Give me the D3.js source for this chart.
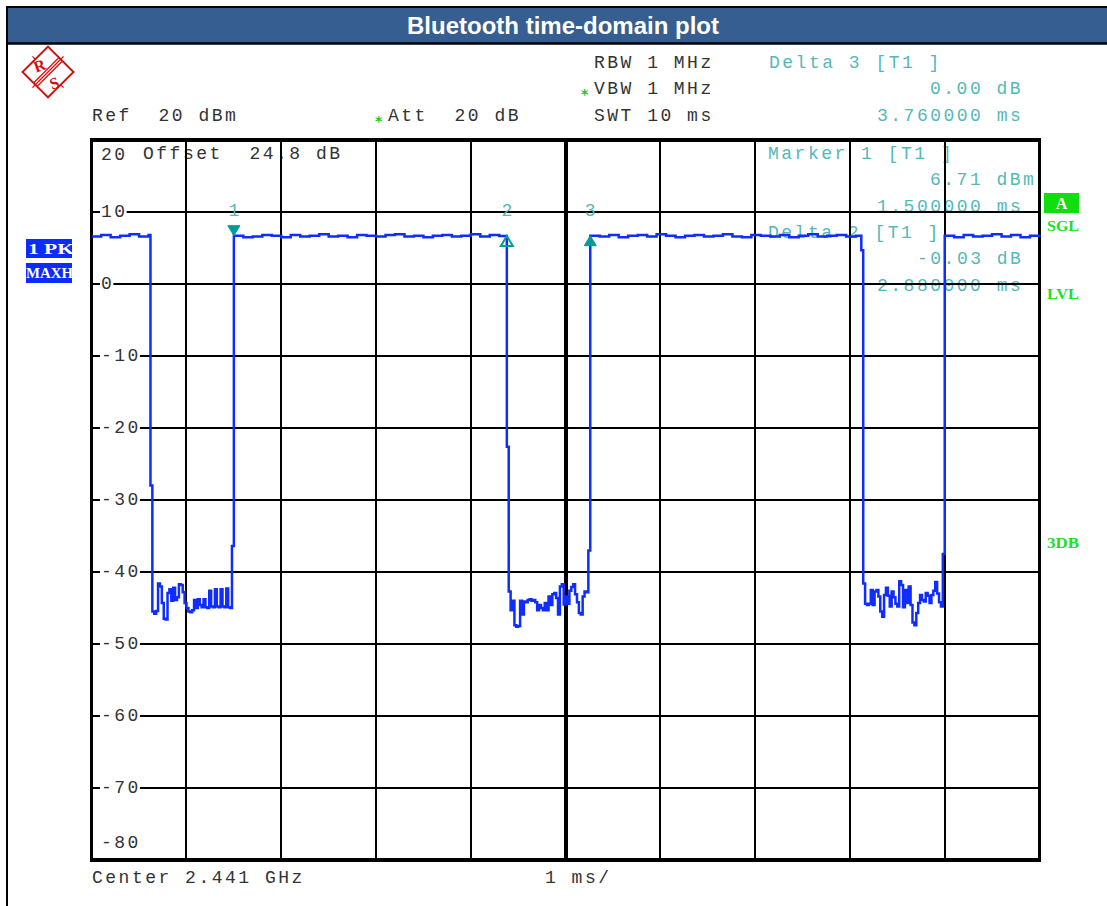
<!DOCTYPE html>
<html>
<head>
<meta charset="utf-8">
<script src="https://d3js.org/d3.v7.min.js"></script>
<style>
  body { margin: 0; background: #fff; }
  svg { display: block; }
  .mono { font-family: "Liberation Mono", "DejaVu Sans Mono", monospace; font-size: 18px; letter-spacing: 2.5px; fill: #333; white-space: pre; }
  .mk { fill: #55b8b8; }
  .flag { font-family: "Liberation Serif", "DejaVu Serif", serif; font-weight: bold; font-size: 15px; white-space: pre; }
</style>
</head>
<body>
<svg id="chart" width="1107" height="906"></svg>
<script>
// sweep: 0..10 ms, level -80..20 dBm
var sweepMs = [0, 10];
var levelRange = [-80, 20];
var levelLabels = [20, 10, 0, -10, -20, -30, -40, -50, -60, -70, -80];

// trace: bursts sampled every 0.1 ms, gaps every 0.02 ms
var highStep = 0.1, lowStep = 0.02;
var burstStart = [0, 1.50, 5.26, 9.00];
var gapStart = [0.62, 4.38, 8.12];

var burst0 = [6.6, 6.8, 6.5, 6.7, 6.9, 6.6, 6.8];
var burst1 = [6.71, 6.5, 6.6, 6.8, 6.7, 6.5, 6.8, 6.6, 6.7, 6.9, 6.6, 6.7, 6.5, 6.8, 6.7,
              6.6, 6.8, 6.9, 6.6, 6.7, 6.5, 6.7, 6.8, 6.6, 6.7, 6.9, 6.6, 6.8, 6.68];
var burst2 = [6.71, 6.6, 6.8, 6.5, 6.7, 6.8, 6.6, 6.9, 6.7, 6.5, 6.7, 6.8, 6.6, 6.7, 6.9,
              6.6, 6.5, 6.8, 6.7, 6.6, 6.8, 6.5, 6.7, 6.9, 6.6, 6.7, 6.8, 6.6, 6.7];
var burst3 = [6.7, 6.5, 6.8, 6.6, 6.7, 6.9, 6.6, 6.8, 6.5, 6.7, 6.8];

var gap0 = [-28.0, -45.5, -45.8, -45.4, -41.6, -42.0, -44.3, -46.5, -46.6, -42.9, -42.4,
            -44.0, -42.2, -43.9, -43.5, -41.7, -41.8, -42.8, -44.3, -45.0, -45.5, -45.6,
            -45.3, -43.9, -45.0, -43.8, -44.6, -44.9, -43.8, -44.9, -45.0, -42.6, -44.8,
            -44.9, -42.4, -44.8, -44.9, -42.4, -44.8, -44.9, -42.3, -44.9, -45.0, -36.4];
var gap1 = [-22.6, -42.7, -45.3, -44.0, -47.4, -47.6, -47.5, -44.0, -45.9, -44.1, -44.2,
            -43.9, -43.8, -44.0, -43.9, -44.2, -45.3, -44.6, -45.0, -45.3, -44.3, -45.3,
            -43.4, -44.6, -43.1, -42.9, -43.6, -45.9, -42.0, -41.7, -44.5, -43.4, -44.4,
            -42.6, -42.1, -41.7, -43.1, -44.2, -45.7, -45.9, -43.4, -42.7, -42.8, -37.0];
var gap2 = [4.7, -41.6, -44.4, -44.6, -44.4, -42.5, -44.6, -42.7, -42.5, -43.4, -45.5,
            -46.2, -43.2, -42.2, -43.3, -44.8, -42.7, -43.5, -44.4, -44.8, -41.3, -41.8,
            -44.9, -42.5, -44.3, -42.0, -44.6, -47.0, -47.4, -45.7, -44.3, -43.2, -43.9,
            -44.1, -42.9, -43.3, -44.3, -43.2, -42.6, -41.4, -43.0, -44.2, -44.8, -37.5];

// markers
var markerNames = ["1", "2", "3"];
var markerTime = [1.50, 4.38, 5.26];
var markerLevel = [6.71, 6.68, 6.71];
var markerKind = ["down", "delta", "up"];

var svg = d3.select("#chart");
var x = d3.scaleLinear().domain(sweepMs).range([91.7, 1039.5]);
var y = d3.scaleLinear().domain(levelRange).range([860, 140]);

// outer border + title bar
svg.append("rect").attr("x", 7).attr("y", 7).attr("width", 1110).attr("height", 910)
  .attr("fill", "none").attr("stroke", "#000").attr("stroke-width", 2);
svg.append("rect").attr("x", 8).attr("y", 8).attr("width", 1105).attr("height", 35)
  .attr("fill", "#375e90");
svg.append("line").attr("x1", 7).attr("x2", 1107).attr("y1", 43.5).attr("y2", 43.5)
  .attr("stroke", "#000").attr("stroke-width", 2.5);
svg.append("text").attr("x", 563).attr("y", 34).attr("text-anchor", "middle")
  .attr("font-family", "Liberation Sans, Arial, sans-serif").attr("font-weight", "bold")
  .attr("font-size", "24px").attr("fill", "#fff").text("Bluetooth time-domain plot");

// R&S logo
var red = "#cc1111";
var logo = svg.append("g").attr("transform", "translate(48,72) rotate(45)");
logo.append("rect").attr("x", -18).attr("y", -18).attr("width", 36).attr("height", 36)
  .attr("fill", "none").attr("stroke", red).attr("stroke-width", 2);
[-2.5, 0, 2.5].forEach(function (d) {
  logo.append("line").attr("y1", -18).attr("y2", 18).attr("x1", d).attr("x2", d)
    .attr("stroke", red).attr("stroke-width", 1.2);
});
[[-18, 0, -22, 0], [0, -18, 0, -22], [18, 0, 22, 0], [0, 18, 0, 22]].forEach(function (d) {
  logo.append("line").attr("x1", d[0]).attr("y1", d[1]).attr("x2", d[2]).attr("y2", d[3])
    .attr("stroke", red).attr("stroke-width", 1.2);
});
svg.append("text").attr("x", 34).attr("y", 71).attr("font-family", "Liberation Serif, serif")
  .attr("font-weight", "bold").attr("font-size", "16px").attr("fill", red)
  .attr("transform", "rotate(-20,40,66)").text("R");
svg.append("text").attr("x", 50).attr("y", 88).attr("font-family", "Liberation Serif, serif")
  .attr("font-weight", "bold").attr("font-size", "16px").attr("fill", red)
  .attr("transform", "rotate(-20,56,83)").text("S");

// header texts
function mono(tx, ty, s, cls) {
  return svg.append("text").attr("class", "mono" + (cls ? " " + cls : ""))
    .attr("x", tx).attr("y", ty).text(s);
}
function star(tx, ty) {
  svg.append("text").attr("x", tx).attr("y", ty).attr("font-family", "DejaVu Sans, sans-serif")
    .attr("font-weight", "bold").attr("font-size", "14px").attr("fill", "#11cc11").text("*");
}
mono(92, 121, "Ref  20 dBm");
star(375, 126); mono(388, 121, "Att  20 dB");
mono(594, 68, "RBW 1 MHz");
star(581, 99); mono(594, 94, "VBW 1 MHz");
mono(594, 121, "SWT 10 ms");
mono(769, 68, "Delta 3 [T1 ]", "mk");
mono(930, 94, "0.00 dB", "mk");
mono(877, 121, "3.760000 ms", "mk");

// in-plot annotation texts (drawn under grid)
mono(143, 159, "Offset  24.8 dB");
mono(768, 159, "Marker 1 [T1 ]", "mk");
mono(930, 185, "6.71 dBm", "mk");
mono(877, 212, "1.500000 ms", "mk");
mono(768, 238, "Delta 2 [T1 ]", "mk");
mono(917, 264, "-0.03 dB", "mk");
mono(877, 291, "2.880000 ms", "mk");

// grid
var grid = svg.append("g").attr("shape-rendering", "crispEdges");
grid.selectAll("line.v").data(d3.range(sweepMs[0], sweepMs[1] + 1)).enter().append("line")
  .attr("x1", function (d) { return x(d); }).attr("x2", function (d) { return x(d); })
  .attr("y1", y(levelRange[1])).attr("y2", y(levelRange[0]))
  .attr("stroke", "#000").attr("stroke-width", function (d) { return d === 5 ? 4 : 2; });
grid.selectAll("line.h").data(y.ticks(10)).enter().append("line")
  .attr("x1", x(sweepMs[0])).attr("x2", x(sweepMs[1]))
  .attr("y1", function (d) { return y(d); }).attr("y2", function (d) { return y(d); })
  .attr("stroke", "#000").attr("stroke-width", 2);
grid.append("rect").attr("x", x(sweepMs[0])).attr("y", y(levelRange[1]))
  .attr("width", x(sweepMs[1]) - x(sweepMs[0])).attr("height", y(levelRange[0]) - y(levelRange[1]))
  .attr("fill", "none").attr("stroke", "#000").attr("stroke-width", 3.5);

// level labels
levelLabels.forEach(function (v) {
  var ty = y(v) + 5;
  if (v === levelRange[1]) ty = y(v) + 20;
  if (v === levelRange[0]) ty = y(v) - 12;
  var t = mono(101, ty, String(v));
  if (v !== levelRange[1] && v !== levelRange[0]) {
    var w = t.node().getComputedTextLength();
    svg.insert("rect", function () { return t.node(); })
      .attr("x", 100).attr("y", y(v) - 7).attr("width", w).attr("height", 14)
      .attr("fill", "#fff");
  }
});

// build trace
var trace = [];
function addSeg(t0, step, vals) {
  vals.forEach(function (v, i) { trace.push([t0 + i * step, v]); });
}
addSeg(burstStart[0], highStep, burst0);
addSeg(gapStart[0], lowStep, gap0);
addSeg(burstStart[1], highStep, burst1);
addSeg(gapStart[1], lowStep, gap1);
addSeg(burstStart[2], highStep, burst2);
addSeg(gapStart[2], lowStep, gap2);
addSeg(burstStart[3], highStep, burst3);
trace.push([sweepMs[1], burst3[burst3.length - 1]]);

var line = d3.line()
  .x(function (d) { return x(d[0]); })
  .y(function (d) { return y(d[1]); })
  .curve(d3.curveStepAfter);
svg.append("path").datum(trace).attr("d", line)
  .attr("fill", "none").attr("stroke", "#0f2dff").attr("stroke-width", 2.5)
  .attr("stroke-linejoin", "miter");

// markers
markerNames.forEach(function (n, i) {
  var mx = x(markerTime[i]), my = y(markerLevel[i]);
  var pts;
  if (markerKind[i] === "down") {
    pts = [[mx - 6, my - 10], [mx + 6, my - 10], [mx, my]];
  } else {
    pts = [[mx - 6, my + 10], [mx + 6, my + 10], [mx, my]];
  }
  svg.append("path").attr("d", d3.line()(pts) + "Z")
    .attr("fill", markerKind[i] === "delta" ? "none" : "#009c9c")
    .attr("stroke", "#009c9c").attr("stroke-width", markerKind[i] === "delta" ? 2 : 1);
  svg.append("text").attr("class", "mono mk").attr("x", mx).attr("y", 216)
    .attr("text-anchor", "middle").style("letter-spacing", "0px").text(n);
});

// bottom texts
mono(92, 883, "Center 2.441 GHz");
mono(545, 883, "1 ms/");

// left flags
svg.append("rect").attr("x", 26).attr("y", 239).attr("width", 46).attr("height", 19).attr("fill", "#0a2cff");
svg.append("rect").attr("x", 26).attr("y", 263).attr("width", 46).attr("height", 20).attr("fill", "#0a2cff");
svg.append("text").attr("class", "flag").attr("x", 28).attr("y", 254).attr("fill", "#fff")
  .attr("textLength", 46).attr("lengthAdjust", "spacingAndGlyphs").text("1 PK");
svg.append("text").attr("class", "flag").attr("x", 26).attr("y", 278).attr("fill", "#fff")
  .attr("textLength", 47).attr("lengthAdjust", "spacingAndGlyphs").text("MAXH");

// right status flags
svg.append("rect").attr("x", 1044).attr("y", 193).attr("width", 35).attr("height", 20).attr("fill", "#11dd11");
svg.append("text").attr("class", "flag").attr("x", 1061.5).attr("y", 209).attr("text-anchor", "middle")
  .attr("fill", "#fff").style("font-size", "16px").text("A");
[["SGL", 231], ["LVL", 299], ["3DB", 548]].forEach(function (d) {
  svg.append("text").attr("class", "flag").attr("x", 1047).attr("y", d[1])
    .attr("fill", "#22dd22").style("font-size", "14px")
    .attr("textLength", 32).attr("lengthAdjust", "spacingAndGlyphs")
    .text(d[0]);
});
</script>
</body>
</html>
